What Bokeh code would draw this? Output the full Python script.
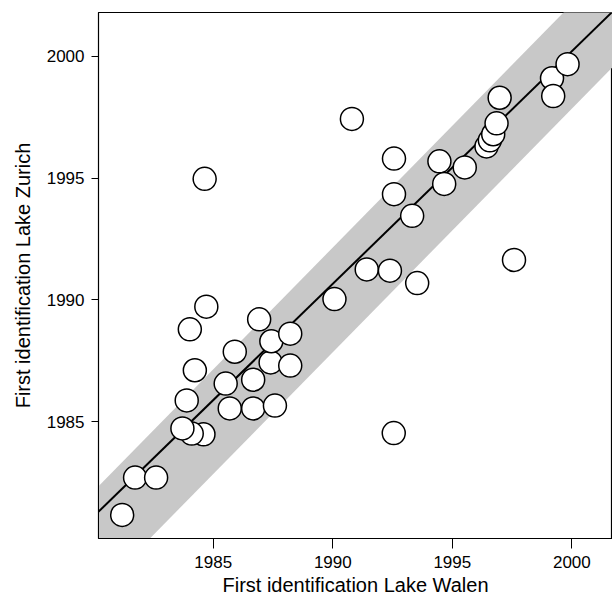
from bokeh.plotting import figure
from bokeh.models import Range1d, FixedTicker, ColumnDataSource
from bokeh.embed import file_html
from bokeh.resources import INLINE

# First identification years (Lake Walen on x, Lake Zurich on y)
walen = [1981.19, 1981.73, 1982.61, 1984.59, 1984.10, 1983.71, 1983.89, 1984.23,
         1984.02, 1984.71, 1984.64, 1985.52, 1985.69, 1985.90, 1986.67, 1986.67,
         1986.92, 1987.40, 1987.43, 1987.58, 1988.22, 1988.22, 1990.07, 1990.80,
         1991.42, 1992.39, 1992.55, 1992.56, 1992.56, 1993.32, 1993.53, 1994.46,
         1994.66, 1995.52, 1996.43, 1996.57, 1996.71, 1996.85, 1996.98, 1997.58,
         1999.17, 1999.22, 1999.82]
zurich = [1981.17, 1982.70, 1982.70, 1984.48, 1984.51, 1984.72, 1985.87, 1987.11,
          1988.79, 1989.72, 1994.97, 1986.56, 1985.54, 1987.87, 1986.72, 1985.54,
          1989.20, 1987.43, 1988.30, 1985.66, 1988.61, 1987.30, 1990.03, 1997.43,
          1991.25, 1991.20, 1984.53, 1995.80, 1994.34, 1993.45, 1990.69, 1995.69,
          1994.76, 1995.44, 1996.30, 1996.55, 1996.80, 1997.25, 1998.30, 1991.64,
          1999.10, 1998.37, 1999.68]

ticks = [1985, 1990, 1995, 2000]
tick_labels = {t: str(t) for t in ticks}

x_lim = [1980.2, 2001.7]
y_lim = [1980.2, 2001.8]

# regression line
fit_x_ref = 1980.2
fit_y_ref = 1981.3
fit_slope = 0.955
# band of +/- years around the 1:1 line
band_half = 2.15
line_x = [1978.0, 2004.0]

line_y = [fit_y_ref + fit_slope * (x - fit_x_ref) for x in line_x]
band_hi = [x + band_half for x in line_x]
band_lo = [x - band_half for x in line_x]

p = figure(width=612, height=598, output_backend="svg", toolbar_location=None,
           x_range=Range1d(*x_lim), y_range=Range1d(*y_lim),
           min_border_left=98, min_border_right=0, min_border_top=12, min_border_bottom=0)

p.varea(x=line_x, y1=band_lo, y2=band_hi, fill_color="#c8c8c8", fill_alpha=1.0)
p.line(x=line_x, y=line_y, line_color="black", line_width=2)

src = ColumnDataSource(dict(x=walen, y=zurich))
p.scatter(x="x", y="y", source=src, size=23, fill_color="white",
          line_color="black", line_width=1.5)

p.xgrid.visible = False
p.ygrid.visible = False
p.outline_line_color = "black"
p.outline_line_width = 1.2
p.background_fill_color = "white"
p.border_fill_color = "white"

for ax in (p.xaxis[0], p.yaxis[0]):
    ax.ticker = FixedTicker(ticks=ticks)
    ax.major_label_overrides = tick_labels
    ax.minor_tick_line_color = None
    ax.major_tick_in = 0
    ax.axis_line_color = "black"
    ax.major_tick_line_color = "black"
    ax.major_label_text_font = "Liberation Sans"
    ax.major_label_text_font_size = "17px"
    ax.major_label_text_color = "black"
    ax.axis_label_text_font = "Liberation Sans"
    ax.axis_label_text_font_size = "20px"
    ax.axis_label_text_font_style = "normal"
    ax.axis_label_text_color = "black"

p.xaxis[0].axis_label = "First identification Lake Walen"
p.yaxis[0].axis_label = "First identification Lake Zurich"
p.xaxis[0].major_tick_out = 10
p.yaxis[0].major_tick_out = 7
p.xaxis[0].major_label_standoff = 7
p.yaxis[0].major_label_standoff = 7
p.xaxis[0].axis_label_standoff = 3
p.yaxis[0].axis_label_standoff = 10

open("out.html", "w").write(file_html(p, INLINE))
